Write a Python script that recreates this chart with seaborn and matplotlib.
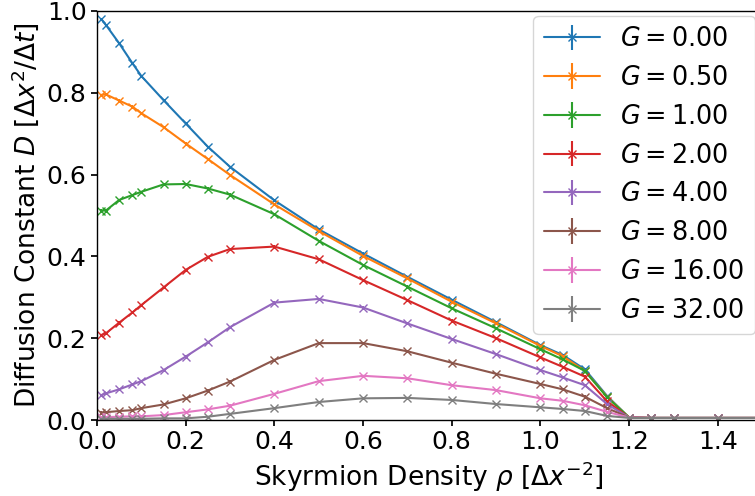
import numpy as np
import pandas as pd
import matplotlib
matplotlib.use("Agg")
import matplotlib.pyplot as plt
import seaborn as sns

rho = [0.01, 0.02, 0.05, 0.08, 0.10, 0.15, 0.20, 0.25, 0.30, 0.40, 0.50, 0.60,
       0.70, 0.80, 0.90, 1.00, 1.05, 1.10, 1.15, 1.20, 1.25, 1.30, 1.40, 1.50]

G_values = [0.0, 0.5, 1.0, 2.0, 4.0, 8.0, 16.0, 32.0]

D_G0 = [0.980, 0.966, 0.921, 0.872, 0.841, 0.782, 0.725, 0.668, 0.619, 0.537, 0.466, 0.407,
        0.350, 0.294, 0.239, 0.183, 0.159, 0.124, 0.059, 0.006, 0.005, 0.005, 0.005, 0.005]
D_G05 = [0.795, 0.796, 0.781, 0.766, 0.750, 0.716, 0.676, 0.638, 0.599, 0.527, 0.462, 0.401,
         0.346, 0.289, 0.236, 0.181, 0.156, 0.120, 0.057, 0.006, 0.005, 0.005, 0.005, 0.005]
D_G1 = [0.512, 0.512, 0.538, 0.550, 0.558, 0.576, 0.577, 0.566, 0.551, 0.503, 0.438, 0.379,
        0.326, 0.273, 0.224, 0.173, 0.148, 0.120, 0.056, 0.006, 0.005, 0.005, 0.005, 0.005]
D_G2 = [0.208, 0.212, 0.238, 0.263, 0.281, 0.324, 0.367, 0.399, 0.418, 0.424, 0.393, 0.342,
        0.293, 0.243, 0.200, 0.153, 0.130, 0.106, 0.046, 0.006, 0.005, 0.005, 0.005, 0.005]
D_G4 = [0.061, 0.065, 0.075, 0.087, 0.095, 0.122, 0.155, 0.190, 0.227, 0.287, 0.296, 0.275,
        0.236, 0.198, 0.161, 0.122, 0.104, 0.085, 0.039, 0.006, 0.005, 0.005, 0.005, 0.005]
D_G8 = [0.018, 0.019, 0.022, 0.024, 0.029, 0.038, 0.053, 0.072, 0.094, 0.147, 0.188, 0.188,
        0.168, 0.140, 0.113, 0.088, 0.075, 0.057, 0.029, 0.006, 0.005, 0.005, 0.005, 0.005]
D_G16 = [0.007, 0.007, 0.008, 0.009, 0.009, 0.012, 0.019, 0.026, 0.035, 0.064, 0.095, 0.108,
         0.102, 0.085, 0.073, 0.053, 0.047, 0.036, 0.020, 0.006, 0.005, 0.005, 0.005, 0.005]
D_G32 = [0.003, 0.003, 0.003, 0.003, 0.003, 0.004, 0.004, 0.008, 0.015, 0.029, 0.044, 0.053,
         0.054, 0.049, 0.039, 0.031, 0.027, 0.022, 0.010, 0.005, 0.005, 0.005, 0.005, 0.005]

series = [D_G0, D_G05, D_G1, D_G2, D_G4, D_G8, D_G16, D_G32]
err = 0.003

sns.set_theme(style="ticks")
plt.rcParams.update({
    "font.family": ["DejaVu Sans"],
    "axes.edgecolor": "black",
    "xtick.color": "black",
    "ytick.color": "black",
    "axes.labelcolor": "black",
    "text.color": "black",
    "axes.linewidth": 1.0,
})
palette = sns.color_palette("tab10", len(G_values))

fig = plt.figure(figsize=(7.55, 4.96), dpi=100)
ax = fig.add_axes([97 / 755, 76 / 496, 663 / 755, 409 / 496])

for g, d, c in zip(G_values, series, palette):
    ax.errorbar(rho, d, yerr=err, marker="x", color=c, lw=1.5, ms=6,
                label=f"$G = {g:.2f}$")

ax.set_xlim(0, 1.495)
ax.set_ylim(0, 1.0)
ax.set_xticks([0.0, 0.2, 0.4, 0.6, 0.8, 1.0, 1.2, 1.4])
ax.set_yticks([0.0, 0.2, 0.4, 0.6, 0.8, 1.0])
ax.tick_params(labelsize=18, length=4)
ax.set_xlabel(r"Skyrmion Density $\rho$ [$\Delta x^{-2}$]", fontsize=19)
ax.set_ylabel(r"Diffusion Constant $D$ [$\Delta x^2/\Delta t$]", fontsize=19)
ax.legend(loc="upper right", fontsize=18.4, borderaxespad=0.2, handlelength=2.2)

fig.savefig("out.png", dpi=100)
